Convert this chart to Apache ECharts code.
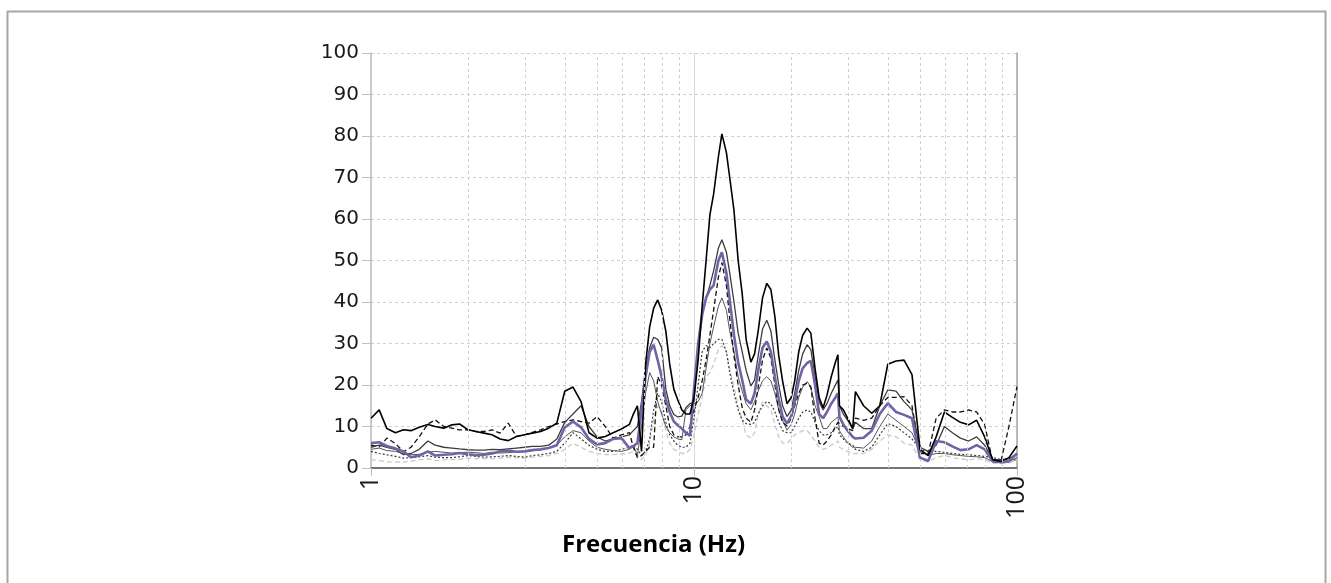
<!DOCTYPE html>
<html>
<head>
<meta charset="utf-8">
<script src="https://cdn.jsdelivr.net/npm/echarts@6/dist/echarts.min.js"></script>
<style>
html, body { margin: 0; padding: 0; background: #fff; }
#container { width: 1331px; height: 583px; }
</style>
</head>
<body>
<div id="container"></div>
<script>
// frequency grid (Hz)
var freqs = [
  1.00,1.06,1.12,1.19,1.26,1.33,1.41,1.50,1.58,1.68,
  1.78,1.88,2.00,2.11,2.24,2.37,2.51,2.66,2.82,2.99,
  3.16,3.35,3.55,3.76,3.98,4.22,4.47,4.73,5.01,5.31,
  5.62,5.96,6.31,6.49,6.68,6.88,7.08,7.29,7.50,7.72,
  7.94,8.18,8.41,8.66,8.91,9.17,9.44,9.72,10.0,10.3,
  10.6,10.9,11.2,11.5,11.9,12.2,12.6,12.9,13.3,13.7,
  14.1,14.5,15.0,15.4,15.8,16.3,16.8,17.3,17.8,18.3,
  18.8,19.4,20.0,20.5,21.1,21.7,22.4,23.0,23.7,24.4,
  25.1,25.8,26.6,27.4,27.9,28.2,29.0,29.9,31.0,31.6,
  33.5,35.5,37.6,39.8,42.2,44.7,47.3,50.1,53.1,56.2,
  59.6,63.1,66.8,70.8,75.0,79.4,84.1,89.1,94.4,100
];

var blackSolid = [
  12,14,9.5,8.5,9.2,9,9.8,10.5,10,9.6,
  10.4,10.6,9.2,8.8,8.4,8,7,6.6,7.6,8,
  8.4,8.8,9.6,10.8,18.5,19.5,16,8.5,7.2,7.6,
  8.5,9.4,10.5,13,15,4,25,34,38.5,40.5,
  38,33,25,19,16.4,14,13,13,17,26,
  39,50,61,66,75,80.5,76,70,62,50,
  42,31,25.5,27.5,33,41,44.5,43,36.5,27,
  21,15.5,17,21,28,32,33.7,32.5,24,17,
  14.5,17.5,22,25.5,27.3,15,14,12,9.5,18.4,
  15,13.2,15,25,25.8,26,22.5,4.5,3,7.5,
  13.5,12.2,11,10.4,11.5,7.5,2,1.6,2.5,5.3
];

var graySolid = [
  5,5.5,5,4.5,3.2,3.5,4.5,6.5,5.5,5,
  4.8,4.6,4.4,4.3,4.3,4.5,4.4,4.6,4.8,5,
  5.2,5.2,5.5,7,11,13,15,10,7.5,6.5,
  7,7.5,8,9,10,16,24,29,31.5,31,
  29,19,15,12.9,12.3,12.5,14.5,15.5,16,29,
  37,41,44,47.5,53,55,52,47,40,32.5,
  28,23.5,19.8,21.2,27,33.5,35.6,33,26,20,
  15,12.4,14,18,23.5,27.5,29.7,28.5,22,16,
  14,15.5,18,20,21.2,15,13,11.5,9.5,11,
  9.5,9.5,15,18.8,18.5,16,14,5,4,5.5,
  10,8.5,7.2,6.5,7.5,5.5,2,2,2.2,3.5
];

var purple = [
  6,6.2,5.3,4.7,4,2.6,3,4,3,3.2,
  3.3,3.6,3.3,3.1,3.2,3.5,4,4.2,3.9,4,
  4.3,4.5,4.8,5.5,9.8,11.2,9.8,7,5.7,6,
  7,7.2,4.8,5.3,6,14,22,28,29.7,26,
  22,16.5,13.5,11.2,10.3,9.5,8.5,7.8,19,30,
  37,41,43,44,50,52,47,40.5,32,25.5,
  21.2,16.5,15.5,18,23.5,29,30.5,28,22,16.5,
  12.5,10.7,12.5,16,21,24,25.3,25.8,20,13,
  12,13.5,15.5,17,18,12.3,10.5,9,7.5,7.1,
  7.3,9,13,15.6,13.5,12.8,12,2.5,1.7,6.5,
  6.2,5.2,4.3,4.5,5.5,4.5,1.6,1.5,1.6,3.5
];

var blackDashed = [
  5.5,5.1,7.2,5.9,3.9,5,7.5,10.6,11.6,10,
  9.6,9.2,9.2,8.8,8.8,9.2,8.4,10.8,7.6,8,
  8.6,9.2,10,10.6,11.2,11.6,11.2,10.8,12.4,10,
  7.2,8,8.5,5,2.5,3,4,5,5,22,
  20,15,10,8,7.5,7.5,8,10,14,17,
  21,26,32,38,46,49.5,44,36,27,20,
  14.5,12,11,14,19.5,26,28.9,26.5,20,14,
  11,10.1,12,15,18,20,20.4,19.5,12,6,
  5.5,6.5,8,10,11,10.7,10,9.5,9,12,
  11.5,12,15,17,17,17.2,15,3.5,3.5,12,
  14,13.5,13.5,14,13.5,10.5,1.5,1.5,10,19.6
];

var grayThin = [
  4.5,4.8,4.2,4,3.5,3.2,3.3,3.8,4,3.8,
  3.6,3.7,3.8,3.7,3.5,3.8,3.6,3.7,3.9,4,
  4.2,4.3,4.8,5.5,7.5,9,8.5,6.5,5,4.5,
  4.2,4,4.5,5.5,3,10,18,23,21,16,
  13,10,8.5,7.5,7,6.8,14,15,15.5,16,
  18,24,30,34,39,41,38,33,28,22,
  18.5,15.5,14,16,18.5,21,22,21,18,14,
  11.5,9.1,10.5,13,17,19.5,20.8,19.5,15,12.4,
  9.5,9.5,11,11.8,12.3,9,7.5,6,5,5,
  4.8,6.5,10,13,11.5,10,8.5,4,3,3.5,
  3.5,3.2,3,2.8,2.7,2.5,1.5,1.2,1.5,2.5
];

var darkDotted = [
  4,3.5,3.2,2.8,2.4,2.5,2.7,3,2.6,2.5,
  2.5,2.7,3,2.8,2.6,2.7,2.8,3,2.8,2.6,
  3,3.2,3.5,4,6,8.5,7,5.5,4.5,4,
  4,4.5,5,5.5,4.5,3,4,7,14,18,
  16,11,8,6.5,5.5,5,5,6,12,20,
  28,29.5,29,30,31,31,28,23,18,14,
  11.5,10.7,10.5,11,13,15,16,15.5,13.5,11,
  9,8.5,8.5,10,12,13.5,14,13.5,11,9,
  8,8,8.5,9.5,10,8,7,6,5.5,4.5,
  4,5,8,10.7,10,8.5,7,4.5,4,4,
  3.8,3.5,3.3,3.2,3,2.8,2.5,2,1.8,2
];

var lightGray = [
  2,1.8,1.5,1.5,1.4,1.6,2,2.2,1.8,2,
  2,2.1,2.4,2.2,2.3,2.2,2.4,2.6,2.5,2.4,
  2.6,2.8,3,3.5,4.5,6,5,4,3.5,3.2,
  3.2,3.4,3.6,4,3,2,3,6,12,15,
  13.5,9,6,4.5,4,3.5,3.5,4.5,8,13,
  17,22,23,25,28.5,29.5,28,24,19.5,15,
  11.5,8,7.2,8.5,13,16,15,14,10.5,7.5,
  6,6,7,8,8.5,9,9,8,6.5,5,
  4.5,4.8,5.5,6,6.5,5,4.5,4,3.5,3.5,
  3.5,4.5,6.5,8,7.5,6,5.5,2,1.5,2.5,
  3,2.5,2.2,2,2.2,2,1.2,1,1.2,2
];

var minorFreqs = [2,3,4,5,6,7,8,9,20,30,40,50,60,70,80,90];
var yTicks = [0,10,20,30,40,50,60,70,80,90,100];

function pairs(vals) {
  return freqs.map(function (f, i) { return [f, vals[i]]; });
}

var dom = document.getElementById('container');
var myChart = echarts.init(dom, null, { renderer: 'canvas' });

var gridDash = { type: [3, 3], color: '#d0d0d0', width: 1 };

var option = {
  animation: false,
  backgroundColor: '#fff',
  title: {
    text: 'Frecuencia (Hz)',
    left: 557,
    top: 528,
    textStyle: { fontFamily: 'Open Sans', fontWeight: 'bold', fontSize: 24, color: '#000' }
  },
  graphic: [{
    type: 'rect',
    left: 5, top: 9,
    shape: { width: 1318, height: 600 },
    style: { fill: 'none', stroke: '#a6a6a6', lineWidth: 2 },
    silent: true
  }],
  grid: { left: 371, right: 314, top: 53, bottom: 115 },
  xAxis: [{
    type: 'log',
    logBase: 10,
    min: 1,
    max: 100,
    axisLine: { show: true, onZero: false, lineStyle: { color: '#bfbfbf', width: 1.5 } },
    axisTick: { show: true, length: 8, lineStyle: { color: '#bfbfbf' } },
    axisLabel: {
      rotate: 90, margin: 8,
      fontFamily: 'Open Sans', fontSize: 25, color: '#1a1a1a'
    },
    splitLine: { show: true, lineStyle: { color: '#d9d9d9', width: 1 } }
  }, {
    type: 'log',
    logBase: 10,
    min: 1,
    max: 100,
    position: 'top',
    axisLine: { show: true, lineStyle: { color: '#595959', width: 1.5 } },
    axisTick: { show: false },
    axisLabel: { show: false },
    splitLine: { show: false }
  }],
  yAxis: [{
    type: 'value',
    min: yTicks[0],
    max: yTicks[yTicks.length - 1],
    interval: 10,
    axisLine: { show: true, lineStyle: { color: '#bfbfbf', width: 1.5 } },
    axisTick: { show: true, length: 9, lineStyle: { color: '#bfbfbf' } },
    axisLabel: { margin: 12, fontFamily: 'DejaVu Sans', fontSize: 20, color: '#1a1a1a' },
    splitLine: { show: true, lineStyle: gridDash }
  }, {
    type: 'value',
    min: 0,
    max: 100,
    position: 'right',
    axisLine: { show: true, lineStyle: { color: '#a6a6a6', width: 1.5 } },
    axisTick: { show: false },
    axisLabel: { show: false },
    splitLine: { show: false }
  }],
  series: [
    {
      name: 'G', type: 'line', data: pairs(lightGray), symbol: 'none',
      lineStyle: { color: '#c9c9c9', width: 1.3, type: [5, 3] },
      markLine: {
        silent: true, symbol: ['none', 'none'], label: { show: false },
        lineStyle: gridDash,
        data: minorFreqs.map(function (f) { return { xAxis: f }; })
      }
    },
    { name: 'F', type: 'line', data: pairs(darkDotted), symbol: 'none',
      lineStyle: { color: '#3a3a3a', width: 1.2, type: [2, 2] } },
    { name: 'E', type: 'line', data: pairs(grayThin), symbol: 'none',
      lineStyle: { color: '#555555', width: 1 } },
    { name: 'D', type: 'line', data: pairs(blackDashed), symbol: 'none',
      lineStyle: { color: '#111111', width: 1.3, type: [5, 3] } },
    { name: 'B', type: 'line', data: pairs(graySolid), symbol: 'none',
      lineStyle: { color: '#3c3c3c', width: 1.3 } },
    { name: 'C', type: 'line', data: pairs(purple), symbol: 'none',
      lineStyle: { color: '#7462a6', width: 2.6 } },
    { name: 'A', type: 'line', data: pairs(blackSolid), symbol: 'none',
      lineStyle: { color: '#000000', width: 1.6 } }
  ]
};

if (option && typeof option === 'object') {
  myChart.setOption(option);
}

window.addEventListener('resize', myChart.resize);
</script>
</body>
</html>
